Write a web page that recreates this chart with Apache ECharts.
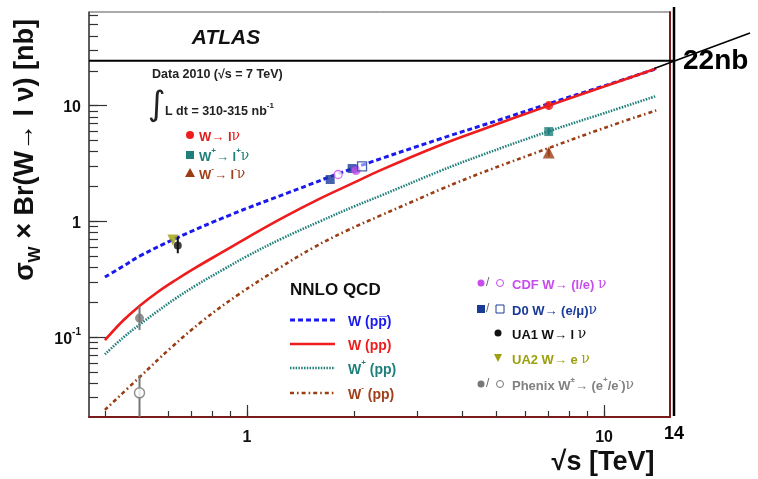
<!DOCTYPE html>
<html>
<head>
<meta charset="utf-8">
<script src="https://cdn.jsdelivr.net/npm/echarts@6/dist/echarts.min.js"></script>
<style>
html, body { margin: 0; padding: 0; background: #fff; }
#chart { width: 758px; height: 479px; }
</style>
</head>
<body>
<div id="chart"></div>
<script>
// axis ranges and ticks
var xRange = [0.361, 15.3];
var yRange = [0.0204, 64.4];
var xMajor = [1, 10];
var xMinor = [0.4, 0.5, 0.6, 0.7, 0.8, 0.9, 2, 3, 4, 5, 6, 7, 8, 9];
var yMajor = [0.1, 1, 10];
var yMinor = [0.03, 0.04, 0.05, 0.06, 0.07, 0.08, 0.09, 0.2, 0.3, 0.4, 0.5, 0.6, 0.7, 0.8, 0.9,
              2, 3, 4, 5, 6, 7, 8, 9, 20, 30, 40, 50, 60];

// NNLO QCD curves
var sWppbar = [0.4, 0.45, 0.5, 0.63, 0.9, 1.3, 2.0, 3.5, 5, 7, 10, 14];
var xsWppbar = [0.33, 0.41, 0.50, 0.71, 1.14, 1.76, 2.9, 5.2, 7.4, 10.4, 14.8, 20.8];
var sWpp = [0.4, 0.45, 0.5, 0.56, 0.63, 0.72, 0.86, 1.0, 1.25, 1.6, 2.0, 2.36, 3.47, 4.5, 7, 10, 14];
var xsWpp = [0.094, 0.139, 0.186, 0.243, 0.31, 0.40, 0.55, 0.72, 1.06, 1.57, 2.17, 2.76, 4.55, 6.13, 10.0, 14.6, 20.9];
var sWplus = [0.4, 0.45, 0.5, 0.56, 0.63, 0.72, 0.86, 1.0, 1.24, 1.6, 2.0, 2.36, 3.47, 4.5, 7, 10, 14];
var xsWplus = [0.071, 0.099, 0.128, 0.166, 0.215, 0.28, 0.385, 0.50, 0.70, 1.0, 1.35, 1.66, 2.72, 3.7, 6.0, 8.6, 12.1];
var sWminus = [0.4, 0.5, 0.61, 0.755, 0.95, 1.24, 1.53, 1.9, 2.36, 2.92, 3.5, 4.5, 7, 10, 14];
var xsWminus = [0.0235, 0.045, 0.080, 0.140, 0.235, 0.40, 0.59, 0.83, 1.12, 1.49, 1.90, 2.6, 4.3, 6.4, 9.1];

// measurements: [sqrt(s), sigma, low, high]
var atlasW = [[7, 10.0, 9.3, 10.8]];
var atlasWplus = [[7, 5.97, 5.6, 6.4]];
var atlasWminus = [[7, 3.94, 3.65, 4.25]];
var cdfClosed = [[2.02, 2.75]];
var cdfOpen = [[1.80, 2.54]];
var d0Closed = [[1.71, 2.30], [1.97, 2.86]];
var d0Open = [[2.10, 2.98]];
var ua1 = [[0.64, 0.62, 0.53, 0.73]];
var ua2 = [[0.62, 0.69]];
var phenixClosed = [[0.5, 0.146, 0.115, 0.185]];
var phenixOpen = [[0.5, 0.033, 0.02, 0.047]];

var FONT = '"Liberation Sans", Arial, Helvetica, sans-serif';
var cBlue = '#1a1aee', cRed = '#ee1c1c', cTeal = '#1f7f7a', cBrown = '#9a3c14';
var cCdf = '#c84cec', cD0 = '#1a3a9a', cUa2 = '#9ca00e', cPhx = '#777777';

function zip(xs, ys) {
    var out = [];
    for (var i = 0; i < xs.length; i++) out.push([xs[i], ys[i]]);
    return out;
}

function curve(name, xs, ys, color, type, width) {
    return {
        name: name, type: 'line', data: zip(xs, ys), smooth: 0.4,
        showSymbol: false, silent: true, z: 2,
        lineStyle: { color: color, width: width, type: type }
    };
}

function points(data, symbol, size, color, extra) {
    var s = {
        type: 'scatter', data: data, symbol: symbol, symbolSize: size, z: 5, silent: true,
        itemStyle: { color: color }, encode: { x: 0, y: 1 }
    };
    for (var k in extra) s[k] = extra[k];
    return s;
}

function errBars(data, color, width) {
    return {
        type: 'custom', data: data, clip: true, silent: true, z: 4,
        encode: { x: 0, y: [2, 3] },
        renderItem: function(params, api) {
            var x = api.value(0);
            var lo = api.coord([x, api.value(2)]);
            var hi = api.coord([x, api.value(3)]);
            return {
                type: 'line',
                shape: { x1: lo[0], y1: lo[1], x2: hi[0], y2: hi[1] },
                style: { stroke: color, lineWidth: width }
            };
        }
    };
}

function txt(x, y, text, size, color, extra) {
    var style = {
        text: text, x: x, y: y, fill: color, fontFamily: FONT,
        fontSize: size, fontWeight: 'bold', verticalAlign: 'middle'
    };
    for (var k in extra) style[k] = extra[k];
    return { type: 'text', silent: true, z: 10, style: style };
}

function richTxt(x, y, parts, size, color) {
    var rich = {
        m: { fontSize: size, fontWeight: 'bold', fill: color, fontFamily: FONT, lineHeight: size + 4, verticalAlign: 'bottom' },
        s: { fontSize: Math.round(size * 0.6), fontWeight: 'bold', fill: color, fontFamily: FONT, lineHeight: size + 4, verticalAlign: 'top' },
        g: { fontSize: size + 1, fill: color, fontFamily: '"DejaVu Serif", serif', lineHeight: size + 4, verticalAlign: 'bottom' }
    };
    return {
        type: 'text', silent: true, z: 10,
        style: { text: parts, x: x, y: y, rich: rich, verticalAlign: 'middle', fill: color }
    };
}

var chart = echarts.init(document.getElementById('chart'), null, { renderer: 'canvas' });

var option = {
    animation: false,
    backgroundColor: '#ffffff',
    grid: { left: 89, right: 88, top: 12, bottom: 62, show: true, borderColor: '#555', borderWidth: 1 },
    xAxis: [
        {
            type: 'log', min: xRange[0], max: xRange[1], position: 'bottom',
            axisLine: { show: true, lineStyle: { color: '#7a1c1c', width: 2 } },
            axisTick: { show: true, inside: true, length: 6, customValues: xMinor.concat(xMajor), lineStyle: { color: '#333', width: 1.2 } },
            axisLabel: {
                show: true, customValues: xMajor, margin: 13,
                fontFamily: FONT, fontWeight: 'bold', fontSize: 16, color: '#111',
                formatter: function(v) { return String(Math.round(v)); }
            },
            splitLine: { show: false }, minorTick: { show: false }
        },
        {
            type: 'log', min: xRange[0], max: xRange[1], position: 'bottom',
            axisLine: { show: false },
            axisTick: { show: true, inside: true, length: 12, customValues: xMajor, lineStyle: { color: '#333', width: 1.2 } },
            axisLabel: { show: false }, splitLine: { show: false }
        }
    ],
    yAxis: [
        {
            type: 'log', min: yRange[0], max: yRange[1], position: 'left',
            axisLine: { show: true, lineStyle: { color: '#444', width: 1.5 } },
            axisTick: { show: true, inside: true, length: 9, customValues: yMinor.concat(yMajor), lineStyle: { color: '#333', width: 1.2 } },
            axisLabel: {
                show: true, customValues: yMajor, margin: 8,
                fontFamily: FONT, fontWeight: 'bold', fontSize: 16, color: '#111',
                formatter: function(v) {
                    if (v < 0.5) return '{b|10}{s|-1}';
                    return '{b|' + Math.round(v) + '}';
                },
                rich: {
                    b: { fontFamily: FONT, fontWeight: 'bold', fontSize: 16, color: '#111', lineHeight: 20, verticalAlign: 'bottom' },
                    s: { fontFamily: FONT, fontWeight: 'bold', fontSize: 10, color: '#111', lineHeight: 20, verticalAlign: 'top' }
                }
            },
            splitLine: { show: false }, minorTick: { show: false }
        },
        {
            type: 'log', min: yRange[0], max: yRange[1], position: 'left',
            axisLine: { show: false },
            axisTick: { show: true, inside: true, length: 18, customValues: yMajor, lineStyle: { color: '#333', width: 1.2 } },
            axisLabel: { show: false }, splitLine: { show: false }
        },
        {
            type: 'log', min: yRange[0], max: yRange[1], position: 'right',
            axisLine: { show: true, lineStyle: { color: '#7a1c1c', width: 2 } },
            axisTick: { show: false }, axisLabel: { show: false }, splitLine: { show: false }
        }
    ],
    series: [
        curve('W (ppbar)', sWppbar, xsWppbar, cBlue, [5, 3], 3),
        curve('W (pp)', sWpp, xsWpp, cRed, 'solid', 2.6),
        curve('W+ (pp)', sWplus, xsWplus, cTeal, [1.5, 1.3], 2.6),
        curve('W- (pp)', sWminus, xsWminus, cBrown, [4, 3, 1.6, 3], 2.6),

        errBars(phenixOpen, cPhx, 2),
        errBars(phenixClosed, cPhx, 2),
        errBars(ua1, '#111', 2),
        errBars(atlasW, cRed, 2),
        errBars(atlasWplus, cTeal, 2),
        errBars(atlasWminus, cBrown, 2),

        points(phenixOpen, 'circle', 10, '#fff', { itemStyle: { color: '#ffffff', borderColor: cPhx, borderWidth: 1.5 } }),
        points(phenixClosed, 'circle', 9, cPhx),
        points(ua2, 'triangle', 11, cUa2, { symbolRotate: 180 }),
        points(ua1, 'circle', 8, '#111'),
        points(d0Closed, 'rect', 9, cD0),
        points(cdfOpen, 'circle', 8, '#fff', { itemStyle: { color: '#ffffff', borderColor: cCdf, borderWidth: 1.3 } }),
        points(cdfClosed, 'circle', 9, cCdf),
        points(d0Open, 'rect', 9, '#fff', { itemStyle: { color: 'rgba(255,255,255,0.6)', borderColor: cD0, borderWidth: 1.3 } }),
        points(atlasW, 'circle', 9, cRed),
        points(atlasWplus, 'rect', 9, cTeal),
        points(atlasWminus, 'triangle', 12, cBrown)
    ]
};

chart.setOption(option);

// overlay: titles, legends and the hand-drawn annotation
var hY = chart.convertToPixel({ xAxisIndex: 0, yAxisIndex: 0 }, [1, 24.4])[1];
var vX = chart.convertToPixel({ xAxisIndex: 0, yAxisIndex: 0 }, [15.7, 1])[0];
var endPt = chart.convertToPixel({ xAxisIndex: 0, yAxisIndex: 0 }, [14, 20.9]);

var g = [];
// axis titles
g.push({
    type: 'text', silent: true, z: 10, x: 28, y: 150, rotation: Math.PI / 2,
    style: {
        text: '{m|σ}{w|W}{m| × Br(W→ l ν) [nb]}', align: 'center', verticalAlign: 'middle',
        rich: {
            m: { fontFamily: FONT, fontWeight: 'bold', fontSize: 27, fill: '#111', lineHeight: 32, verticalAlign: 'top' },
            w: { fontFamily: FONT, fontWeight: 'bold', fontSize: 17, fill: '#111', lineHeight: 32, verticalAlign: 'bottom' }
        }
    }
});
g.push(txt(603, 463, '\u221As [TeV]', 27, '#111', { align: 'center' }));

// annotation
g.push({ type: 'line', silent: true, z: 11, shape: { x1: 89, y1: hY, x2: vX, y2: hY }, style: { stroke: '#000', lineWidth: 2 } });
g.push({ type: 'line', silent: true, z: 11, shape: { x1: vX, y1: 7, x2: vX, y2: 416 }, style: { stroke: '#000', lineWidth: 2.5 } });
g.push({ type: 'line', silent: true, z: 11, shape: { x1: endPt[0] - 2, y1: endPt[1], x2: 750, y2: 33 }, style: { stroke: '#000', lineWidth: 1.5 } });
g.push(txt(683, 61, '22nb', 28, '#000'));
g.push(txt(674, 434, '14', 18, '#000', { align: 'center' }));

// ATLAS block
g.push(txt(226, 38, 'ATLAS', 21, '#111', { align: 'center', fontStyle: 'italic' }));
g.push(txt(152, 75, 'Data 2010 (\u221As = 7 TeV)', 12.5, '#222'));
g.push(txt(148, 106, '\u222B', 34, '#222', { fontWeight: 'normal', fontFamily: '"DejaVu Sans", sans-serif' }));
g.push(richTxt(165, 110, '{m|L dt = 310-315 nb}{s|-1}', 12.5, '#222'));

g.push({ type: 'circle', silent: true, z: 10, shape: { cx: 190, cy: 135, r: 4 }, style: { fill: cRed } });
g.push(richTxt(199, 135, '{m|W→ l}{g|ν}', 13, '#e02020'));
g.push({ type: 'rect', silent: true, z: 10, shape: { x: 186, y: 151, width: 8, height: 8 }, style: { fill: cTeal } });
g.push(richTxt(199, 155, '{m|W}{s|+}{m|→ l}{s|+}{g|ν}', 13, cTeal));
g.push({ type: 'polygon', silent: true, z: 10, shape: { points: [[190, 168], [185, 177], [195, 177]] }, style: { fill: cBrown } });
g.push(richTxt(199, 173, '{m|W}{s|-}{m|→ l}{s|-}{g|ν}', 13, '#a0401a'));

// NNLO legend
g.push(txt(290, 290, 'NNLO QCD', 17, '#111'));
var legLines = [
    [cBlue, [5, 3], 3, '{m|W (pp\u0305)}', cBlue],
    [cRed, 'solid', 2.6, '{m|W (pp)}', cRed],
    [cTeal, [1.5, 1.3], 2.6, '{m|W}{s|+}{m| (pp)}', cTeal],
    [cBrown, [4, 3, 1.6, 3], 2.6, '{m|W}{s|-}{m| (pp)}', '#a0401a']
];
var legY = [320, 344, 368, 393];
for (var i = 0; i < legLines.length; i++) {
    var L = legLines[i];
    g.push({ type: 'line', silent: true, z: 10, shape: { x1: 290, y1: legY[i], x2: 335, y2: legY[i] },
             style: { stroke: L[0], lineWidth: L[2], lineDash: L[1] === 'solid' ? null : L[1] } });
    g.push(richTxt(348, legY[i], L[3], 14, L[4]));
}

// data legend
var dY = [283, 309, 333, 358, 384];
g.push({ type: 'circle', silent: true, z: 10, shape: { cx: 481, cy: dY[0], r: 3.5 }, style: { fill: cCdf } });
g.push(txt(486, dY[0], '/', 12, '#666', { fontWeight: 'normal' }));
g.push({ type: 'circle', silent: true, z: 10, shape: { cx: 500, cy: dY[0], r: 3.5 }, style: { fill: 'none', stroke: cCdf, lineWidth: 1 } });
g.push(richTxt(512, dY[0], '{m|CDF W→ (l/e) }{g|ν}', 13, cCdf));

g.push({ type: 'rect', silent: true, z: 10, shape: { x: 477, y: dY[1] - 4, width: 8, height: 8 }, style: { fill: cD0 } });
g.push(txt(486, dY[1], '/', 12, '#666', { fontWeight: 'normal' }));
g.push({ type: 'rect', silent: true, z: 10, shape: { x: 496, y: dY[1] - 4, width: 8, height: 8 }, style: { fill: 'none', stroke: cD0, lineWidth: 1 } });
g.push(richTxt(512, dY[1], '{m|D0 W→ (e/μ)}{g|ν}', 13, cD0));

g.push({ type: 'circle', silent: true, z: 10, shape: { cx: 498, cy: dY[2], r: 3.5 }, style: { fill: '#111' } });
g.push(richTxt(512, dY[2], '{m|UA1 W→ l }{g|ν}', 13, '#111'));

g.push({ type: 'polygon', silent: true, z: 10, shape: { points: [[494, dY[3] - 4], [502, dY[3] - 4], [498, dY[3] + 4]] }, style: { fill: cUa2 } });
g.push(richTxt(512, dY[3], '{m|UA2 W→ e }{g|ν}', 13, cUa2));

g.push({ type: 'circle', silent: true, z: 10, shape: { cx: 481, cy: dY[4], r: 3.5 }, style: { fill: cPhx } });
g.push(txt(486, dY[4], '/', 12, '#666', { fontWeight: 'normal' }));
g.push({ type: 'circle', silent: true, z: 10, shape: { cx: 500, cy: dY[4], r: 3.5 }, style: { fill: 'none', stroke: cPhx, lineWidth: 1 } });
g.push(richTxt(512, dY[4], '{m|Phenix W}{s|±}{m|→ (e}{s|+}{m|/e}{s|-}{m|)}{g|ν}', 13, '#808080'));

chart.setOption({ graphic: g });
</script>
</body>
</html>
